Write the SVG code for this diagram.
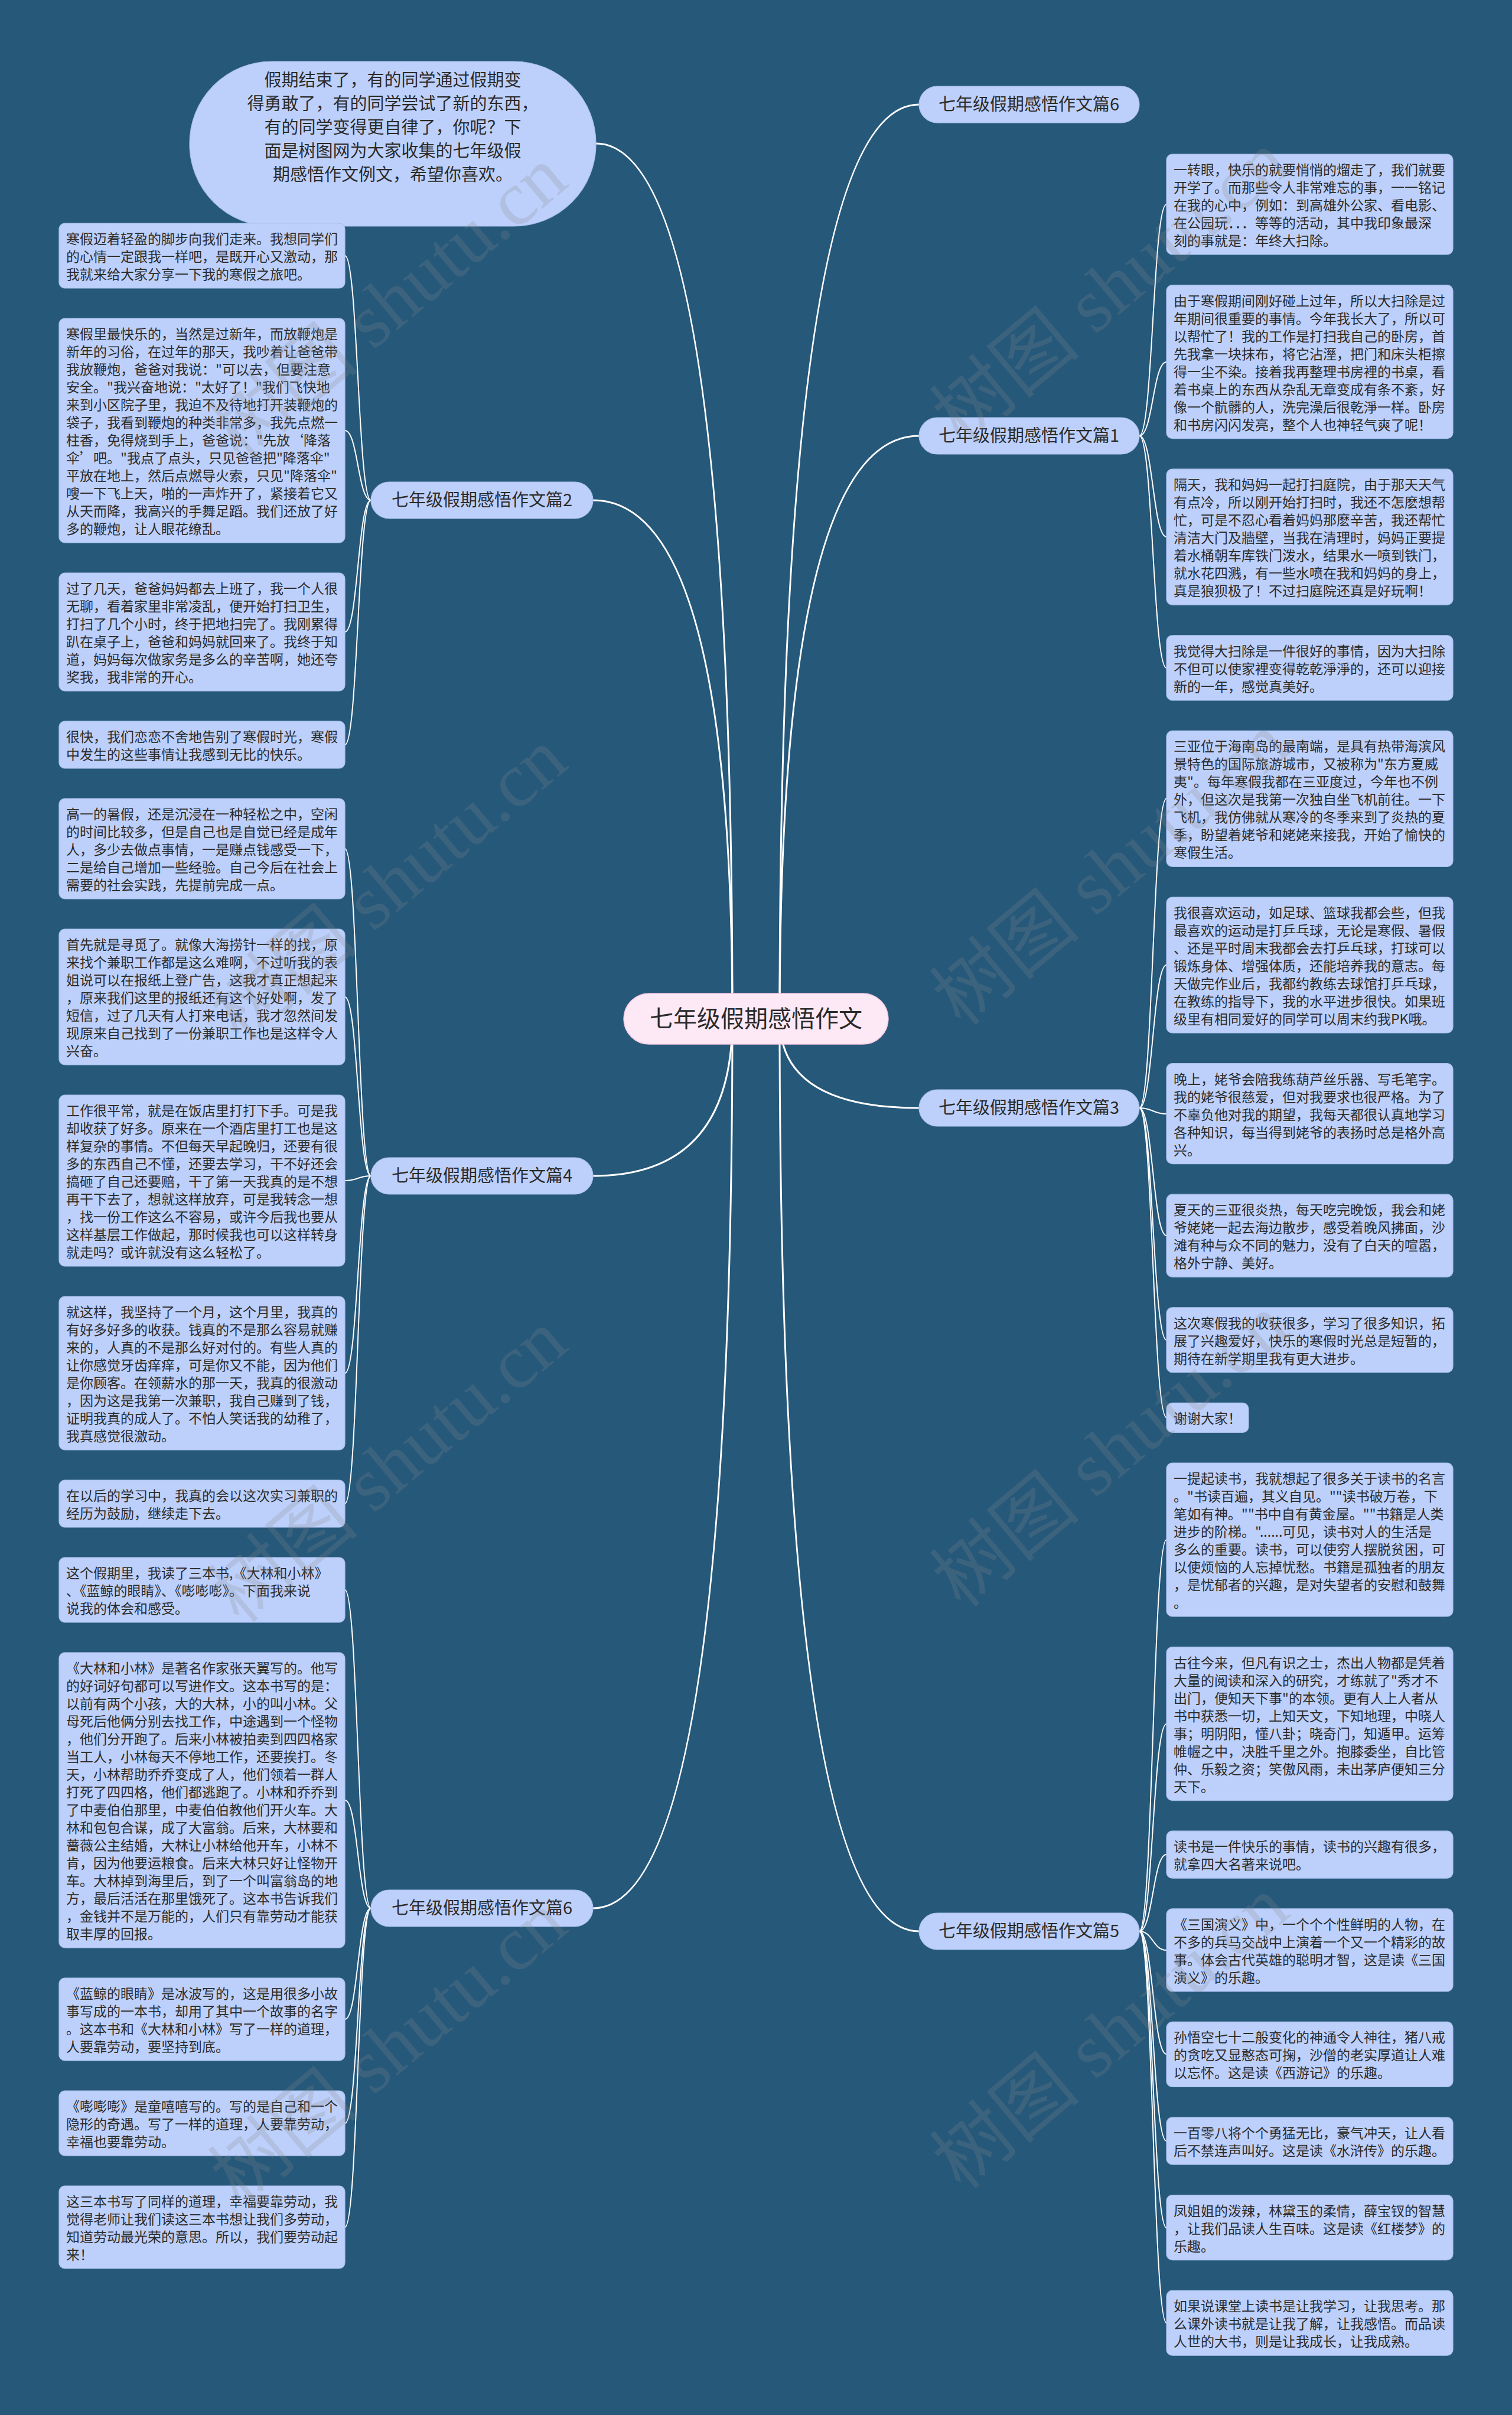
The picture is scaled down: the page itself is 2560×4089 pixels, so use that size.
<svg xmlns="http://www.w3.org/2000/svg" width="2560" height="4089" viewBox="0 0 2560 4089">
<defs>
<style>
text{font-family:"Noto Sans CJK SC","Liberation Sans",sans-serif;fill:#2b2b2b}
.leaf rect{fill:#bdd0fb;stroke:#a9bfee;stroke-width:1.2}
.leaf text{font-size:23px}
.branch rect{fill:#bdd0fb;stroke:#a9bfee;stroke-width:1.2}
.branch text{font-size:29px;text-anchor:middle}
.root rect{fill:#fde9f5;stroke:#f3c3de;stroke-width:1.5}
.root text{font-size:40px;text-anchor:middle}
.intro rect{fill:#bdd0fb;stroke:#a9bfee;stroke-width:1.2}
.intro text{font-size:29px;text-anchor:middle}
.conn path{fill:none;stroke:#ffffff;stroke-width:2}
.conn path.main{stroke-width:3}
.wm{font-family:"Liberation Serif","Noto Sans CJK SC",serif;font-size:130px;fill:#8a8a8a;opacity:0.22}
</style>
</defs>
<rect x="0" y="0" width="2560" height="4089" fill="#26587a"/>

<g id="connectors" class="conn">
<path class="main" d="M1240,1725 Q1240,243 1009,243"/>
<path class="main" d="M1320,1725 Q1320,177 1556,177"/>
<path class="main" d="M1320,1725 Q1320,738 1556,738"/>
<path class="main" d="M1320,1725 Q1320,1876 1556,1876"/>
<path class="main" d="M1320,1725 Q1320,3270 1556,3270"/>
<path class="main" d="M1240,1725 Q1240,847 1004,847"/>
<path class="main" d="M1240,1725 Q1240,1991 1004,1991"/>
<path class="main" d="M1240,1725 Q1240,3231 1004,3231"/>
<path d="M628,847 C606,847 606,433 584,433"/>
<path d="M628,847 C606,847 606,729 584,729"/>
<path d="M628,847 C606,847 606,1070 584,1070"/>
<path d="M628,847 C606,847 606,1261 584,1261"/>
<path d="M628,1991 C606,1991 606,1437 584,1437"/>
<path d="M628,1991 C606,1991 606,1688 584,1688"/>
<path d="M628,1991 C606,1991 606,1999 584,1999"/>
<path d="M628,1991 C606,1991 606,2325 584,2325"/>
<path d="M628,1991 C606,1991 606,2546 584,2546"/>
<path d="M628,3231 C606,3231 606,2692 584,2692"/>
<path d="M628,3231 C606,3231 606,3048 584,3048"/>
<path d="M628,3231 C606,3231 606,3419 584,3419"/>
<path d="M628,3231 C606,3231 606,3595 584,3595"/>
<path d="M628,3231 C606,3231 606,3771 584,3771"/>
<path d="M1929,738 C1952,738 1952,346 1975,346"/>
<path d="M1929,738 C1952,738 1952,613 1975,613"/>
<path d="M1929,738 C1952,738 1952,909 1975,909"/>
<path d="M1929,738 C1952,738 1952,1131 1975,1131"/>
<path d="M1929,1876 C1952,1876 1952,1352 1975,1352"/>
<path d="M1929,1876 C1952,1876 1952,1634 1975,1634"/>
<path d="M1929,1876 C1952,1876 1952,1886 1975,1886"/>
<path d="M1929,1876 C1952,1876 1952,2092 1975,2092"/>
<path d="M1929,1876 C1952,1876 1952,2269 1975,2269"/>
<path d="M1929,1876 C1952,1876 1952,2400 1975,2400"/>
<path d="M1929,3270 C1952,3270 1952,2607 1975,2607"/>
<path d="M1929,3270 C1952,3270 1952,2919 1975,2919"/>
<path d="M1929,3270 C1952,3270 1952,3140 1975,3140"/>
<path d="M1929,3270 C1952,3270 1952,3302 1975,3302"/>
<path d="M1929,3270 C1952,3270 1952,3478 1975,3478"/>
<path d="M1929,3270 C1952,3270 1952,3625 1975,3625"/>
<path d="M1929,3270 C1952,3270 1952,3772 1975,3772"/>
<path d="M1929,3270 C1952,3270 1952,3933 1975,3933"/>
</g>

<g id="root" class="root"><rect x="1056" y="1682" width="448" height="86" rx="43"/><text x="1280" y="1739">七年级假期感悟作文</text></g>

<g id="intro" class="intro"><rect x="321" y="104" width="688" height="279" rx="139"/>
<text x="665" y="146"><tspan x="665">假期结束了，有的同学通过假期变</tspan><tspan x="665" dy="40">得勇敢了，有的同学尝试了新的东西，</tspan><tspan x="665" dy="40">有的同学变得更自律了，你呢？下</tspan><tspan x="665" dy="40">面是树图网为大家收集的七年级假</tspan><tspan x="665" dy="40">期感悟作文例文，希望你喜欢。</tspan></text></g>

<g id="b6r" class="branch"><rect x="1556" y="146" width="373" height="62" rx="31"/><text x="1742" y="187">七年级假期感悟作文篇6</text></g>
<g id="b1" class="branch"><rect x="1556" y="707" width="373" height="62" rx="31"/><text x="1742" y="748">七年级假期感悟作文篇1</text></g>
<g id="b3" class="branch"><rect x="1556" y="1845" width="373" height="62" rx="31"/><text x="1742" y="1886">七年级假期感悟作文篇3</text></g>
<g id="b5" class="branch"><rect x="1556" y="3239" width="373" height="62" rx="31"/><text x="1742" y="3280">七年级假期感悟作文篇5</text></g>
<g id="b2" class="branch"><rect x="628" y="816" width="376" height="62" rx="31"/><text x="816" y="857">七年级假期感悟作文篇2</text></g>
<g id="b4" class="branch"><rect x="628" y="1960" width="376" height="62" rx="31"/><text x="816" y="2001">七年级假期感悟作文篇4</text></g>
<g id="b6l" class="branch"><rect x="628" y="3200" width="376" height="62" rx="31"/><text x="816" y="3241">七年级假期感悟作文篇6</text></g>

<g id="l2a" class="leaf"><rect x="100" y="378" width="484" height="110" rx="10"/><text x="112" y="413"><tspan x="112">寒假迈着轻盈的脚步向我们走来。我想同学们</tspan><tspan x="112" dy="30">的心情一定跟我一样吧，是既开心又激动，那</tspan><tspan x="112" dy="30">我就来给大家分享一下我的寒假之旅吧。</tspan></text></g>
<g id="l2b" class="leaf"><rect x="100" y="539" width="484" height="380" rx="10"/><text x="112" y="574"><tspan x="112">寒假里最快乐的，当然是过新年，而放鞭炮是</tspan><tspan x="112" dy="30">新年的习俗，在过年的那天，我吵着让爸爸带</tspan><tspan x="112" dy="30">我放鞭炮，爸爸对我说："可以去，但要注意</tspan><tspan x="112" dy="30">安全。"我兴奋地说："太好了！"我们飞快地</tspan><tspan x="112" dy="30">来到小区院子里，我迫不及待地打开装鞭炮的</tspan><tspan x="112" dy="30">袋子，我看到鞭炮的种类非常多，我先点燃一</tspan><tspan x="112" dy="30">柱香，免得烧到手上，爸爸说："先放‘降落</tspan><tspan x="112" dy="30">伞’吧。"我点了点头，只见爸爸把"降落伞"</tspan><tspan x="112" dy="30">平放在地上，然后点燃导火索，只见"降落伞"</tspan><tspan x="112" dy="30">嗖一下飞上天，啪的一声炸开了，紧接着它又</tspan><tspan x="112" dy="30">从天而降，我高兴的手舞足蹈。我们还放了好</tspan><tspan x="112" dy="30">多的鞭炮，让人眼花缭乱。</tspan></text></g>
<g id="l2c" class="leaf"><rect x="100" y="970" width="484" height="200" rx="10"/><text x="112" y="1005"><tspan x="112">过了几天，爸爸妈妈都去上班了，我一个人很</tspan><tspan x="112" dy="30">无聊，看着家里非常凌乱，便开始打扫卫生，</tspan><tspan x="112" dy="30">打扫了几个小时，终于把地扫完了。我刚累得</tspan><tspan x="112" dy="30">趴在桌子上，爸爸和妈妈就回来了。我终于知</tspan><tspan x="112" dy="30">道，妈妈每次做家务是多么的辛苦啊，她还夸</tspan><tspan x="112" dy="30">奖我，我非常的开心。</tspan></text></g>
<g id="l2d" class="leaf"><rect x="100" y="1221" width="484" height="80" rx="10"/><text x="112" y="1256"><tspan x="112">很快，我们恋恋不舍地告别了寒假时光，寒假</tspan><tspan x="112" dy="30">中发生的这些事情让我感到无比的快乐。</tspan></text></g>
<g id="l4a" class="leaf"><rect x="100" y="1352" width="484" height="170" rx="10"/><text x="112" y="1387"><tspan x="112">高一的暑假，还是沉浸在一种轻松之中，空闲</tspan><tspan x="112" dy="30">的时间比较多，但是自己也是自觉已经是成年</tspan><tspan x="112" dy="30">人，多少去做点事情，一是赚点钱感受一下，</tspan><tspan x="112" dy="30">二是给自己增加一些经验。自己今后在社会上</tspan><tspan x="112" dy="30">需要的社会实践，先提前完成一点。</tspan></text></g>
<g id="l4b" class="leaf"><rect x="100" y="1573" width="484" height="230" rx="10"/><text x="112" y="1608"><tspan x="112">首先就是寻觅了。就像大海捞针一样的找，原</tspan><tspan x="112" dy="30">来找个兼职工作都是这么难啊，不过听我的表</tspan><tspan x="112" dy="30">姐说可以在报纸上登广告，这我才真正想起来</tspan><tspan x="112" dy="30">，原来我们这里的报纸还有这个好处啊，发了</tspan><tspan x="112" dy="30">短信，过了几天有人打来电话，我才忽然间发</tspan><tspan x="112" dy="30">现原来自己找到了一份兼职工作也是这样令人</tspan><tspan x="112" dy="30">兴奋。</tspan></text></g>
<g id="l4c" class="leaf"><rect x="100" y="1854" width="484" height="290" rx="10"/><text x="112" y="1889"><tspan x="112">工作很平常，就是在饭店里打打下手。可是我</tspan><tspan x="112" dy="30">却收获了好多。原来在一个酒店里打工也是这</tspan><tspan x="112" dy="30">样复杂的事情。不但每天早起晚归，还要有很</tspan><tspan x="112" dy="30">多的东西自己不懂，还要去学习，干不好还会</tspan><tspan x="112" dy="30">搞砸了自己还要赔，干了第一天我真的是不想</tspan><tspan x="112" dy="30">再干下去了，想就这样放弃，可是我转念一想</tspan><tspan x="112" dy="30">，找一份工作这么不容易，或许今后我也要从</tspan><tspan x="112" dy="30">这样基层工作做起，那时候我也可以这样转身</tspan><tspan x="112" dy="30">就走吗？或许就没有这么轻松了。</tspan></text></g>
<g id="l4d" class="leaf"><rect x="100" y="2195" width="484" height="260" rx="10"/><text x="112" y="2230"><tspan x="112">就这样，我坚持了一个月，这个月里，我真的</tspan><tspan x="112" dy="30">有好多好多的收获。钱真的不是那么容易就赚</tspan><tspan x="112" dy="30">来的，人真的不是那么好对付的。有些人真的</tspan><tspan x="112" dy="30">让你感觉牙齿痒痒，可是你又不能，因为他们</tspan><tspan x="112" dy="30">是你顾客。在领薪水的那一天，我真的很激动</tspan><tspan x="112" dy="30">，因为这是我第一次兼职，我自己赚到了钱，</tspan><tspan x="112" dy="30">证明我真的成人了。不怕人笑话我的幼稚了，</tspan><tspan x="112" dy="30">我真感觉很激动。</tspan></text></g>
<g id="l4e" class="leaf"><rect x="100" y="2506" width="484" height="80" rx="10"/><text x="112" y="2541"><tspan x="112">在以后的学习中，我真的会以这次实习兼职的</tspan><tspan x="112" dy="30">经历为鼓励，继续走下去。</tspan></text></g>
<g id="l6a" class="leaf"><rect x="100" y="2637" width="484" height="110" rx="10"/><text x="112" y="2672"><tspan x="112">这个假期里，我读了三本书,《大林和小林》</tspan><tspan x="112" dy="30">、《蓝鲸的眼睛》、《嘭嘭嘭》。下面我来说</tspan><tspan x="112" dy="30">说我的体会和感受。</tspan></text></g>
<g id="l6b" class="leaf"><rect x="100" y="2798" width="484" height="500" rx="10"/><text x="112" y="2833"><tspan x="112">《大林和小林》是著名作家张天翼写的。他写</tspan><tspan x="112" dy="30">的好词好句都可以写进作文。这本书写的是：</tspan><tspan x="112" dy="30">以前有两个小孩，大的大林，小的叫小林。父</tspan><tspan x="112" dy="30">母死后他俩分别去找工作，中途遇到一个怪物</tspan><tspan x="112" dy="30">，他们分开跑了。后来小林被拍卖到四四格家</tspan><tspan x="112" dy="30">当工人，小林每天不停地工作，还要挨打。冬</tspan><tspan x="112" dy="30">天，小林帮助乔乔变成了人，他们领着一群人</tspan><tspan x="112" dy="30">打死了四四格，他们都逃跑了。小林和乔乔到</tspan><tspan x="112" dy="30">了中麦伯伯那里，中麦伯伯教他们开火车。大</tspan><tspan x="112" dy="30">林和包包合谋，成了大富翁。后来，大林要和</tspan><tspan x="112" dy="30">蔷薇公主结婚，大林让小林给他开车，小林不</tspan><tspan x="112" dy="30">肯，因为他要运粮食。后来大林只好让怪物开</tspan><tspan x="112" dy="30">车。大林掉到海里后，到了一个叫富翁岛的地</tspan><tspan x="112" dy="30">方，最后活活在那里饿死了。这本书告诉我们</tspan><tspan x="112" dy="30">，金钱并不是万能的，人们只有靠劳动才能获</tspan><tspan x="112" dy="30">取丰厚的回报。</tspan></text></g>
<g id="l6c" class="leaf"><rect x="100" y="3349" width="484" height="140" rx="10"/><text x="112" y="3384"><tspan x="112">《蓝鲸的眼睛》是冰波写的，这是用很多小故</tspan><tspan x="112" dy="30">事写成的一本书，却用了其中一个故事的名字</tspan><tspan x="112" dy="30">。这本书和《大林和小林》写了一样的道理，</tspan><tspan x="112" dy="30">人要靠劳动，要坚持到底。</tspan></text></g>
<g id="l6d" class="leaf"><rect x="100" y="3540" width="484" height="110" rx="10"/><text x="112" y="3575"><tspan x="112">《嘭嘭嘭》是童嘻嘻写的。写的是自己和一个</tspan><tspan x="112" dy="30">隐形的奇遇。写了一样的道理，人要靠劳动，</tspan><tspan x="112" dy="30">幸福也要靠劳动。</tspan></text></g>
<g id="l6e" class="leaf"><rect x="100" y="3701" width="484" height="140" rx="10"/><text x="112" y="3736"><tspan x="112">这三本书写了同样的道理，幸福要靠劳动，我</tspan><tspan x="112" dy="30">觉得老师让我们读这三本书想让我们多劳动，</tspan><tspan x="112" dy="30">知道劳动最光荣的意思。所以，我们要劳动起</tspan><tspan x="112" dy="30">来！</tspan></text></g>

<g id="r1a" class="leaf"><rect x="1975" y="261" width="485" height="170" rx="10"/><text x="1987" y="296"><tspan x="1987">一转眼，快乐的就要悄悄的熘走了，我们就要</tspan><tspan x="1987" dy="30">开学了。而那些令人非常难忘的事，一一铭记</tspan><tspan x="1987" dy="30">在我的心中，例如：到高雄外公家、看电影、</tspan><tspan x="1987" dy="30">在公园玩．．．等等的活动，其中我印象最深</tspan><tspan x="1987" dy="30">刻的事就是：年终大扫除。</tspan></text></g>
<g id="r1b" class="leaf"><rect x="1975" y="482.6" width="485" height="260" rx="10"/><text x="1987" y="517.6"><tspan x="1987">由于寒假期间刚好碰上过年，所以大扫除是过</tspan><tspan x="1987" dy="30">年期间很重要的事情。今年我长大了，所以可</tspan><tspan x="1987" dy="30">以帮忙了！我的工作是打扫我自己的卧房，首</tspan><tspan x="1987" dy="30">先我拿一块抹布，将它沾溼，把门和床头柜擦</tspan><tspan x="1987" dy="30">得一尘不染。接着我再整理书房裡的书桌，看</tspan><tspan x="1987" dy="30">着书桌上的东西从杂乱无章变成有条不紊，好</tspan><tspan x="1987" dy="30">像一个骯髒的人，洗完澡后很乾淨一样。卧房</tspan><tspan x="1987" dy="30">和书房闪闪发亮，整个人也神轻气爽了呢！</tspan></text></g>
<g id="r1c" class="leaf"><rect x="1975" y="794.2" width="485" height="230" rx="10"/><text x="1987" y="829.2"><tspan x="1987">隔天，我和妈妈一起打扫庭院，由于那天天气</tspan><tspan x="1987" dy="30">有点冷，所以刚开始打扫时，我还不怎麽想帮</tspan><tspan x="1987" dy="30">忙，可是不忍心看着妈妈那麽辛苦，我还帮忙</tspan><tspan x="1987" dy="30">清洁大门及牆壁，当我在清理时，妈妈正要提</tspan><tspan x="1987" dy="30">着水桶朝车库铁门泼水，结果水一喷到铁门，</tspan><tspan x="1987" dy="30">就水花四溅，有一些水喷在我和妈妈的身上，</tspan><tspan x="1987" dy="30">真是狼狈极了！不过扫庭院还真是好玩啊！</tspan></text></g>
<g id="r1d" class="leaf"><rect x="1975" y="1075.8" width="485" height="110" rx="10"/><text x="1987" y="1110.8"><tspan x="1987">我觉得大扫除是一件很好的事情，因为大扫除</tspan><tspan x="1987" dy="30">不但可以使家裡变得乾乾淨淨的，还可以迎接</tspan><tspan x="1987" dy="30">新的一年，感觉真美好。</tspan></text></g>
<g id="r3a" class="leaf"><rect x="1975" y="1237.4" width="485" height="230" rx="10"/><text x="1987" y="1272.4"><tspan x="1987">三亚位于海南岛的最南端，是具有热带海滨风</tspan><tspan x="1987" dy="30">景特色的国际旅游城市，又被称为"东方夏威</tspan><tspan x="1987" dy="30">夷"。每年寒假我都在三亚度过，今年也不例</tspan><tspan x="1987" dy="30">外，但这次是我第一次独自坐飞机前往。一下</tspan><tspan x="1987" dy="30">飞机，我仿佛就从寒冷的冬季来到了炎热的夏</tspan><tspan x="1987" dy="30">季，盼望着姥爷和姥姥来接我，开始了愉快的</tspan><tspan x="1987" dy="30">寒假生活。</tspan></text></g>
<g id="r3b" class="leaf"><rect x="1975" y="1519" width="485" height="230" rx="10"/><text x="1987" y="1554"><tspan x="1987">我很喜欢运动，如足球、篮球我都会些，但我</tspan><tspan x="1987" dy="30">最喜欢的运动是打乒乓球，无论是寒假、暑假</tspan><tspan x="1987" dy="30">、还是平时周末我都会去打乒乓球，打球可以</tspan><tspan x="1987" dy="30">锻炼身体、增强体质，还能培养我的意志。每</tspan><tspan x="1987" dy="30">天做完作业后，我都约教练去球馆打乒乓球，</tspan><tspan x="1987" dy="30">在教练的指导下，我的水平进步很快。如果班</tspan><tspan x="1987" dy="30">级里有相同爱好的同学可以周末约我PK哦。</tspan></text></g>
<g id="r3c" class="leaf"><rect x="1975" y="1800.6" width="485" height="170" rx="10"/><text x="1987" y="1835.6"><tspan x="1987">晚上，姥爷会陪我练葫芦丝乐器、写毛笔字。</tspan><tspan x="1987" dy="30">我的姥爷很慈爱，但对我要求也很严格。为了</tspan><tspan x="1987" dy="30">不辜负他对我的期望，我每天都很认真地学习</tspan><tspan x="1987" dy="30">各种知识，每当得到姥爷的表扬时总是格外高</tspan><tspan x="1987" dy="30">兴。</tspan></text></g>
<g id="r3d" class="leaf"><rect x="1975" y="2022.2" width="485" height="140" rx="10"/><text x="1987" y="2057.2"><tspan x="1987">夏天的三亚很炎热，每天吃完晚饭，我会和姥</tspan><tspan x="1987" dy="30">爷姥姥一起去海边散步，感受着晚风拂面，沙</tspan><tspan x="1987" dy="30">滩有种与众不同的魅力，没有了白天的喧嚣，</tspan><tspan x="1987" dy="30">格外宁静、美好。</tspan></text></g>
<g id="r3e" class="leaf"><rect x="1975" y="2213.8" width="485" height="110" rx="10"/><text x="1987" y="2248.8"><tspan x="1987">这次寒假我的收获很多，学习了很多知识，拓</tspan><tspan x="1987" dy="30">展了兴趣爱好，快乐的寒假时光总是短暂的，</tspan><tspan x="1987" dy="30">期待在新学期里我有更大进步。</tspan></text></g>
<g id="r3f" class="leaf"><rect x="1975" y="2375.4" width="139" height="50" rx="10"/><text x="1987" y="2410.4">谢谢大家！</text></g>
<g id="r5a" class="leaf"><rect x="1975" y="2477" width="485" height="260" rx="10"/><text x="1987" y="2512"><tspan x="1987">一提起读书，我就想起了很多关于读书的名言</tspan><tspan x="1987" dy="30">。"书读百遍，其义自见。""读书破万卷，下</tspan><tspan x="1987" dy="30">笔如有神。""书中自有黄金屋。""书籍是人类</tspan><tspan x="1987" dy="30">进步的阶梯。"......可见，读书对人的生活是</tspan><tspan x="1987" dy="30">多么的重要。读书，可以使穷人摆脱贫困，可</tspan><tspan x="1987" dy="30">以使烦恼的人忘掉忧愁。书籍是孤独者的朋友</tspan><tspan x="1987" dy="30">，是忧郁者的兴趣，是对失望者的安慰和鼓舞</tspan><tspan x="1987" dy="30">。</tspan></text></g>
<g id="r5b" class="leaf"><rect x="1975" y="2788.6" width="485" height="260" rx="10"/><text x="1987" y="2823.6"><tspan x="1987">古往今来，但凡有识之士，杰出人物都是凭着</tspan><tspan x="1987" dy="30">大量的阅读和深入的研究，才练就了"秀才不</tspan><tspan x="1987" dy="30">出门，便知天下事"的本领。更有人上人者从</tspan><tspan x="1987" dy="30">书中获悉一切，上知天文，下知地理，中晓人</tspan><tspan x="1987" dy="30">事；明阴阳，懂八卦；晓奇门，知遁甲。运筹</tspan><tspan x="1987" dy="30">帷幄之中，决胜千里之外。抱膝委坐，自比管</tspan><tspan x="1987" dy="30">仲、乐毅之资；笑傲风雨，未出茅庐便知三分</tspan><tspan x="1987" dy="30">天下。</tspan></text></g>
<g id="r5c" class="leaf"><rect x="1975" y="3100.2" width="485" height="80" rx="10"/><text x="1987" y="3135.2"><tspan x="1987">读书是一件快乐的事情，读书的兴趣有很多，</tspan><tspan x="1987" dy="30">就拿四大名著来说吧。</tspan></text></g>
<g id="r5d" class="leaf"><rect x="1975" y="3231.8" width="485" height="140" rx="10"/><text x="1987" y="3266.8"><tspan x="1987">《三国演义》中，一个个个性鲜明的人物，在</tspan><tspan x="1987" dy="30">不多的兵马交战中上演着一个又一个精彩的故</tspan><tspan x="1987" dy="30">事。体会古代英雄的聪明才智，这是读《三国</tspan><tspan x="1987" dy="30">演义》的乐趣。</tspan></text></g>
<g id="r5e" class="leaf"><rect x="1975" y="3423.4" width="485" height="110" rx="10"/><text x="1987" y="3458.4"><tspan x="1987">孙悟空七十二般变化的神通令人神往，猪八戒</tspan><tspan x="1987" dy="30">的贪吃又显憨态可掬，沙僧的老实厚道让人难</tspan><tspan x="1987" dy="30">以忘怀。这是读《西游记》的乐趣。</tspan></text></g>
<g id="r5f" class="leaf"><rect x="1975" y="3585" width="485" height="80" rx="10"/><text x="1987" y="3620"><tspan x="1987">一百零八将个个勇猛无比，豪气冲天，让人看</tspan><tspan x="1987" dy="30">后不禁连声叫好。这是读《水浒传》的乐趣。</tspan></text></g>
<g id="r5g" class="leaf"><rect x="1975" y="3716.6" width="485" height="110" rx="10"/><text x="1987" y="3751.6"><tspan x="1987">凤姐姐的泼辣，林黛玉的柔情，薛宝钗的智慧</tspan><tspan x="1987" dy="30">，让我们品读人生百味。这是读《红楼梦》的</tspan><tspan x="1987" dy="30">乐趣。</tspan></text></g>
<g id="r5h" class="leaf"><rect x="1975" y="3878.2" width="485" height="110" rx="10"/><text x="1987" y="3913.2"><tspan x="1987">如果说课堂上读书是让我学习，让我思考。那</tspan><tspan x="1987" dy="30">么课外读书就是让我了解，让我感悟。而品读</tspan><tspan x="1987" dy="30">人世的大书，则是让我成长，让我成熟。</tspan></text></g>

<g id="watermarks">
<text class="wm" transform="translate(407,782) rotate(-40)">树图 shutu.cn</text>
<text class="wm" transform="translate(407,1767) rotate(-40)">树图 shutu.cn</text>
<text class="wm" transform="translate(407,2752) rotate(-40)">树图 shutu.cn</text>
<text class="wm" transform="translate(407,3737) rotate(-40)">树图 shutu.cn</text>
<text class="wm" transform="translate(1629,756) rotate(-40)">树图 shutu.cn</text>
<text class="wm" transform="translate(1629,1741) rotate(-40)">树图 shutu.cn</text>
<text class="wm" transform="translate(1629,2726) rotate(-40)">树图 shutu.cn</text>
<text class="wm" transform="translate(1629,3711) rotate(-40)">树图 shutu.cn</text>
</g>
</svg>
